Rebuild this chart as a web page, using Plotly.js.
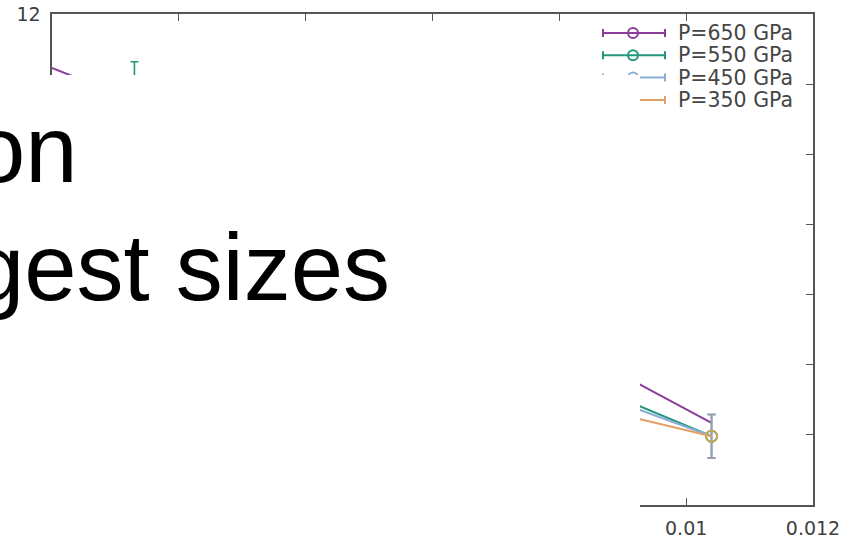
<!DOCTYPE html>
<html>
<head>
<meta charset="utf-8">
<script src="https://cdn.plot.ly/plotly-3.0.1.min.js"></script>
<style>
  html, body { margin: 0; padding: 0; background: #ffffff; }
  #chart { width: 858px; height: 542px; }
</style>
</head>
<body>
<div id="chart"></div>
<script>
// ---- data (x = 1/N) ----
var seriesNames = ['P=650 GPa', 'P=550 GPa', 'P=450 GPa', 'P=350 GPa'];
var seriesColors = ['#8a3d9a', '#23977c', '#8aaed8', '#e3a062'];

var x650 = [0, 0.0013, 0.0026, 0.0052, 0.0104];
var y650 = [11.23, 10.76, 10.2, 8.69, 6.17];
var e650 = [NaN, 0.3, 0.3, 0.3, NaN];

var xSizes = [0.0013, 0.0026, 0.0052, 0.0104];
var y550 = [11.0, 10.0, 7.95, 5.98];
var e550 = [0.32, 0.3, 0.3, 0.31];
var y450 = [10.85, 9.8, 7.71, 5.98];
var e450 = [0.25, 0.3, 0.3, 0.31];
var y350 = [10.7, 9.5, 7.1, 5.98];
var e350 = [0.3, 0.3, 0.3, 0.31];

// tick labels that are visible (the rest lie under the white panel)
var xTickVals = [0, 0.002, 0.004, 0.006, 0.008, 0.01, 0.012];
var xTickText = ['', '', '', '', '', '0.01', '0.012'];
var yTickVals = [5, 6, 7, 8, 9, 10, 11, 12];
var yTickText = ['', '', '', '', '', '', '11', '12'];

var overlayLines = ['on', 'gest sizes'];

// ---- traces ----
function mk(name, xs, ys, es, color, errColor, sizes) {
  return {
    type: 'scatter', mode: 'lines+markers', name: name,
    x: xs, y: ys, showlegend: false, cliponaxis: true,
    line: { color: color, width: 2 },
    marker: { symbol: 'circle-open', size: sizes, color: color, line: { width: 1.8, color: color } },
    error_y: { type: 'data', array: es, visible: true, color: errColor, thickness: 1.6, width: 4 }
  };
}
var purpleSizes = x650.map(function (v, i) { return (i === 0 || i === x650.length - 1) ? 0 : 11; });
var traces = [
  mk(seriesNames[0], x650, y650, e650, seriesColors[0], seriesColors[0], purpleSizes),
  mk(seriesNames[1], xSizes, y550, e550, seriesColors[1], seriesColors[1], 11),
  mk(seriesNames[2], xSizes, y450, e450, seriesColors[2], seriesColors[2], 11),
  mk(seriesNames[3], xSizes, y350, e350, '#c9a94a', '#a29bab', 11)
];
traces[3].line.color = seriesColors[3];

// ---- layout helpers (pixel -> paper) ----
var L = 52, R = 813, T = 14, B = 505;
function px(p) { return (p - L) / (R - L); }
function py(p) { return (B - p) / (B - T); }

var shapes = [];
var annotations = [];
// manual gnuplot-style key
for (var i = 0; i < seriesNames.length; i++) {
  var cy = 33 + 22.3 * i;
  var c = seriesColors[i];
  shapes.push({ type: 'line', xref: 'paper', yref: 'paper', x0: px(603), x1: px(665), y0: py(cy), y1: py(cy), line: { color: c, width: 2 }, layer: 'above' });
  shapes.push({ type: 'line', xref: 'paper', yref: 'paper', x0: px(603), x1: px(603), y0: py(cy - 4), y1: py(cy + 4), line: { color: c, width: 2 }, layer: 'above' });
  shapes.push({ type: 'line', xref: 'paper', yref: 'paper', x0: px(665), x1: px(665), y0: py(cy - 4), y1: py(cy + 4), line: { color: c, width: 2 }, layer: 'above' });
  shapes.push({ type: 'circle', xref: 'paper', yref: 'paper', x0: px(628), x1: px(638), y0: py(cy - 5), y1: py(cy + 5), line: { color: c, width: 2 }, fillcolor: 'rgba(0,0,0,0)', layer: 'above' });
  annotations.push({ xref: 'paper', yref: 'paper', x: px(676), y: py(cy), xanchor: 'left', yanchor: 'middle', showarrow: false, text: seriesNames[i], font: { family: 'DejaVu Sans', size: 20.5, color: '#454545' } });
}
// white overlay panel
shapes.push({ type: 'rect', xref: 'paper', yref: 'paper', x0: px(-20), x1: px(640), y0: py(560), y1: py(75), fillcolor: '#ffffff', line: { width: 0 }, layer: 'above' });
annotations.push({ xref: 'paper', yref: 'paper', x: px(80), y: py(149), xanchor: 'right', yanchor: 'middle', showarrow: false, text: overlayLines[0], font: { family: 'Liberation Sans', size: 94, color: '#000000' } });
annotations.push({ xref: 'paper', yref: 'paper', x: px(392), y: py(267), xanchor: 'right', yanchor: 'middle', showarrow: false, text: overlayLines[1], font: { family: 'Liberation Sans', size: 94, color: '#000000' } });

var axisCommon = {
  showline: true, mirror: 'ticks', linecolor: '#555555', linewidth: 1.6,
  ticks: 'inside', ticklen: 7, tickwidth: 1.2, tickcolor: '#555555',
  showgrid: false, zeroline: false,
  tickfont: { family: 'DejaVu Sans', size: 19, color: '#404040' }
};
var layout = {
  width: 858, height: 542,
  margin: { l: L, r: 858 - R, t: T, b: 542 - B, pad: 0 },
  paper_bgcolor: '#ffffff', plot_bgcolor: '#ffffff',
  showlegend: false,
  xaxis: Object.assign({}, axisCommon, { range: [0, 0.012], tickmode: 'array', tickvals: xTickVals, ticktext: xTickText, ticklabelstandoff: 6 }),
  yaxis: Object.assign({}, axisCommon, { range: [5, 12], tickmode: 'array', tickvals: yTickVals, ticktext: yTickText, ticklabelstandoff: 6 }),
  shapes: shapes,
  annotations: annotations
};
Plotly.newPlot('chart', traces, layout, { staticPlot: true, displayModeBar: false });
</script>
</body>
</html>
